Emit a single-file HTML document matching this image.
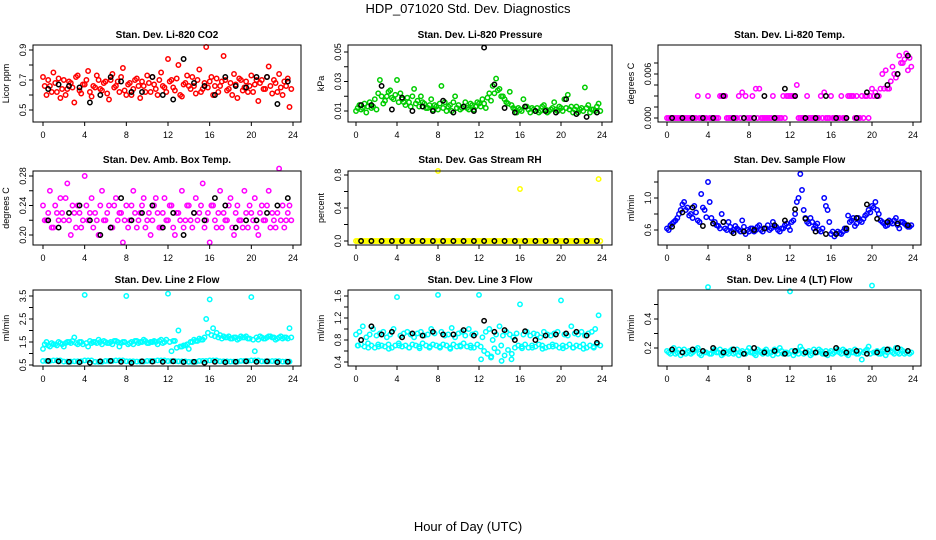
<!DOCTYPE html>
<html><head><meta charset="utf-8"><style>
html,body{margin:0;padding:0;background:#fff}
svg{display:block;font-family:"Liberation Sans",sans-serif}
</style></head><body>
<svg id="chart" width="936" height="540" viewBox="0 0 936 540" xmlns="http://www.w3.org/2000/svg">
<text x="468" y="13" text-anchor="middle" font-size="13">HDP_071020  Std. Dev. Diagnostics</text>
<text x="468" y="531" text-anchor="middle" font-size="13">Hour of Day (UTC)</text>
</svg>
<script>
// ---- data ----
const co2Vals = [0.72,0.6,0.66,0.75,0.62,0.58,0.7,0.64,0.68,0.55,0.73,0.61,0.67,0.76,0.59,0.65,0.7,0.63,0.69,0.57,0.74,0.66,0.62,0.78,0.6,0.68,0.64,0.71,0.58,0.66,0.73,0.62,0.67,0.6,0.75,0.65,0.84,0.7,0.63,0.8,0.59,0.68,0.66,0.72,0.61,0.77,0.64,0.92,0.69,0.6,0.71,0.66,0.86,0.63,0.68,0.74,0.58,0.7,0.65,0.62,0.73,0.67,0.56,0.7,0.64,0.79,0.61,0.68,0.74,0.6,0.66,0.52];
const co2ValsB = [0.66,0.7,0.62,0.68,0.71,0.64,0.6,0.69,0.65,0.72,0.63,0.67,0.7,0.62,0.66,0.73,0.64,0.68,0.61,0.7,0.65,0.69,0.72,0.63,0.67,0.6,0.7,0.66,0.69,0.62,0.68,0.72,0.64,0.7,0.66,0.62,0.69,0.65,0.71,0.6,0.67,0.73,0.64,0.66,0.7,0.62,0.68,0.65,0.72,0.66,0.62,0.69,0.7,0.64,0.6,0.67,0.71,0.63,0.69,0.66,0.62,0.7,0.68,0.64,0.72,0.66,0.7,0.62,0.65,0.69,0.71,0.64];
const co2Black = [0.64,0.67,0.66,0.65,0.55,0.6,0.72,0.69,0.62,0.62,0.72,0.6,0.57,0.84,0.68,0.66,0.6,0.72,0.66,0.65,0.72,0.72,0.54,0.69];
const presVals = [0.01,0.014,0.012,0.009,0.016,0.013,0.011,0.031,0.015,0.02,0.024,0.018,0.031,0.022,0.016,0.019,0.013,0.025,0.017,0.02,0.015,0.012,0.018,0.014,0.011,0.027,0.016,0.013,0.01,0.02,0.014,0.012,0.016,0.011,0.014,0.013,0.015,0.018,0.012,0.022,0.027,0.032,0.025,0.02,0.016,0.023,0.012,0.009,0.011,0.018,0.013,0.009,0.011,0.012,0.01,0.014,0.009,0.011,0.016,0.01,0.012,0.018,0.021,0.013,0.011,0.009,0.012,0.026,0.014,0.011,0.01,0.015];
const presValsB = [0.012,0.011,0.015,0.013,0.012,0.018,0.022,0.02,0.017,0.023,0.019,0.021,0.016,0.018,0.014,0.016,0.02,0.015,0.013,0.016,0.012,0.014,0.011,0.013,0.015,0.012,0.01,0.014,0.016,0.012,0.011,0.013,0.012,0.015,0.011,0.016,0.013,0.015,0.019,0.017,0.022,0.024,0.02,0.018,0.015,0.014,0.011,0.012,0.01,0.013,0.011,0.012,0.01,0.009,0.013,0.011,0.01,0.012,0.011,0.013,0.01,0.012,0.011,0.009,0.013,0.011,0.01,0.012,0.009,0.011,0.013,0.01];
const presBlack = [0.014,0.014,0.027,0.011,0.019,0.01,0.013,0.01,0.017,0.009,0.013,0.01,0.053,0.028,0.012,0.009,0.013,0.01,0.01,0.009,0.018,0.008,0.006,0.009];
const tempVals = [0,0,0,0,0,0,0,0,0,0.003,0,0,0.003,0,0,0,0.003,0.003,0,0,0,0.003,0.0035,0.003,0,0.003,0.004,0.004,0,0,0,0.003,0,0,0.003,0.003,0.003,0.003,0.0045,0,0,0.003,0,0,0,0.003,0.0035,0,0.003,0,0,0.003,0,0.003,0.003,0,0,0.003,0.003,0,0.004,0.0035,0.003,0.006,0.0065,0.004,0.007,0.0055,0.0085,0.0075,0.0088,0.0082];
const tempValsB = [0,0,0,0,0,0,0,0,0,0,0,0,0,0,0,0.003,0.003,0,0,0,0,0,0,0,0,0,0,0,0,0,0,0,0,0,0,0.003,0.003,0.003,0,0,0,0,0,0,0,0,0,0,0,0,0,0,0,0.003,0.003,0.003,0,0,0.003,0.003,0.003,0.003,0.004,0.004,0.004,0.005,0.006,0.006,0.0075,0.008,0.0065,0.007];
const tempBlack = [0,0,0,0,0,0.003,0,0,0,0.003,0,0.004,0.003,0,0,0.003,0,0,0,0.0035,0.003,0.0045,0.006,0.0085];
const ambVals = [0.24,0.22,0.26,0.21,0.23,0.25,0.22,0.27,0.2,0.23,0.24,0.21,0.28,0.22,0.25,0.23,0.2,0.26,0.22,0.24,0.21,0.25,0.23,0.19,0.24,0.22,0.26,0.21,0.23,0.25,0.22,0.2,0.24,0.23,0.21,0.25,0.22,0.24,0.2,0.23,0.26,0.22,0.24,0.21,0.25,0.23,0.27,0.22,0.19,0.24,0.21,0.26,0.23,0.22,0.25,0.2,0.24,0.22,0.26,0.21,0.23,0.25,0.2,0.24,0.22,0.26,0.23,0.21,0.29,0.24,0.22,0.24];
const ambValsB = [0.22,0.23,0.21,0.24,0.22,0.23,0.25,0.22,0.24,0.21,0.23,0.22,0.24,0.23,0.21,0.22,0.24,0.22,0.23,0.21,0.24,0.22,0.23,0.22,0.21,0.24,0.23,0.22,0.24,0.21,0.23,0.22,0.25,0.21,0.23,0.22,0.24,0.21,0.23,0.22,0.21,0.24,0.22,0.23,0.22,0.24,0.21,0.23,0.24,0.22,0.23,0.21,0.22,0.24,0.21,0.23,0.22,0.21,0.23,0.24,0.22,0.21,0.23,0.22,0.24,0.21,0.22,0.23,0.22,0.21,0.23,0.22];
const ambBlack = [0.22,0.21,0.23,0.24,0.22,0.2,0.21,0.25,0.22,0.23,0.24,0.21,0.23,0.2,0.23,0.22,0.25,0.24,0.21,0.22,0.22,0.23,0.24,0.25];
const rhVals = [0,0,0,0,0,0,0,0,0,0,0,0,0,0,0,0,0,0,0,0,0,0,0,0,0.85,0,0,0,0,0,0,0,0,0,0,0,0,0,0,0,0,0,0,0,0,0,0,0,0.63,0,0,0,0,0,0,0,0,0,0,0,0,0,0,0,0,0,0,0,0,0,0,0.75];
const rhValsB = [0,0,0,0,0,0,0,0,0,0,0,0,0,0,0,0,0,0,0,0,0,0,0,0,0,0,0,0,0,0,0,0,0,0,0,0,0,0,0,0,0,0,0,0,0,0,0,0,0,0,0,0,0,0,0,0,0,0,0,0,0,0,0,0,0,0,0,0,0,0,0,0];
const rhBlack = [0,0,0,0,0,0,0,0,0,0,0,0,0,0,0,0,0,0,0,0,0,0,0,0];
const flowVals = [0.62,0.66,0.7,0.75,0.85,0.95,0.88,0.8,0.9,0.72,1.05,0.85,1.2,0.75,0.7,0.65,0.8,0.62,0.7,0.58,0.65,0.6,0.72,0.55,0.58,0.62,0.6,0.66,0.58,0.62,0.6,0.7,0.64,0.58,0.62,0.68,0.6,0.72,0.95,1.3,0.85,0.7,0.75,0.62,0.68,0.58,1.0,0.85,0.55,0.52,0.58,0.55,0.62,0.78,0.72,0.65,0.75,0.7,0.78,0.85,0.9,0.95,0.8,0.7,0.65,0.72,0.68,0.75,0.62,0.7,0.66,0.64];
const flowValsB = [0.6,0.68,0.72,0.8,0.92,0.85,0.78,0.75,0.82,0.7,0.88,0.76,0.95,0.68,0.66,0.62,0.7,0.6,0.64,0.6,0.62,0.58,0.64,0.6,0.62,0.58,0.64,0.6,0.62,0.66,0.62,0.64,0.6,0.62,0.66,0.64,0.7,0.8,1.0,1.1,0.75,0.68,0.7,0.65,0.6,0.62,0.9,0.7,0.58,0.55,0.56,0.58,0.6,0.7,0.75,0.68,0.72,0.74,0.8,0.82,0.88,0.85,0.72,0.68,0.66,0.7,0.72,0.66,0.7,0.68,0.64,0.66];
const flowBlack = [0.64,0.82,0.88,0.65,0.68,0.7,0.56,0.58,0.6,0.62,0.66,0.72,0.86,0.74,0.58,0.55,0.55,0.62,0.75,0.92,0.74,0.7,0.68,0.66];
const line2Hi = [1.2,1.5,1.3,1.4,1.35,1.45,1.3,1.5,1.45,1.7,1.4,1.5,3.55,1.3,1.45,1.5,1.6,1.4,1.5,1.45,1.4,1.55,1.3,1.5,3.5,1.45,1.4,1.55,1.5,1.6,1.45,1.5,1.55,1.4,1.6,1.5,3.6,1.1,1.55,2.0,1.3,1.35,1.2,1.5,1.55,1.65,1.6,2.5,3.35,2.1,1.9,1.8,1.75,1.7,1.65,1.7,1.6,1.75,1.7,1.65,3.45,1.1,1.6,1.7,1.65,1.75,1.7,1.6,1.7,1.65,1.7,2.1];
const line2HiB = [1.4,1.35,1.45,1.4,1.5,1.4,1.45,1.5,1.55,1.45,1.5,1.4,1.45,1.55,1.5,1.45,1.5,1.55,1.45,1.5,1.55,1.5,1.45,1.5,1.4,1.5,1.55,1.45,1.5,1.55,1.45,1.5,1.5,1.55,1.45,1.6,1.5,1.55,1.25,1.3,1.35,1.4,1.5,1.6,1.55,1.6,1.7,1.9,1.8,1.75,1.7,1.65,1.7,1.75,1.65,1.7,1.65,1.7,1.75,1.65,1.6,1.7,1.75,1.65,1.7,1.75,1.7,1.65,1.75,1.7,1.65,1.7];
const line2Lo = [0.68,0.7,0.65,0.66,0.7,0.64,0.68,0.7,0.66,0.65,0.68,0.7,0.67,0.66,0.64,0.68,0.7,0.66,0.65,0.68,0.7,0.66,0.67,0.65];
const line2Black = [0.68,0.66,0.64,0.62,0.6,0.66,0.68,0.64,0.6,0.66,0.65,0.64,0.66,0.63,0.64,0.6,0.64,0.62,0.64,0.66,0.64,0.66,0.62,0.64];
const line3Hi = [0.9,0.95,1.05,0.85,0.9,1.0,0.88,0.92,0.95,0.85,0.9,1.0,1.58,0.88,0.92,0.95,0.9,0.85,0.92,0.95,0.88,0.9,1.0,0.92,1.62,0.95,0.88,0.9,1.02,0.85,0.92,0.95,0.88,1.0,0.9,0.92,1.62,0.85,0.95,1.0,0.8,0.9,1.05,0.88,0.95,0.9,0.85,0.92,1.45,0.9,0.95,0.88,0.92,0.9,0.85,0.95,0.9,0.88,0.92,0.95,1.52,0.9,0.88,1.05,0.92,0.9,0.95,0.88,0.92,0.95,1.0,1.25];
const line3HiB = [0.7,0.72,0.68,0.74,0.7,0.66,0.72,0.7,0.68,0.72,0.66,0.7,0.74,0.68,0.7,0.66,0.72,0.7,0.68,0.74,0.7,0.66,0.72,0.7,0.68,0.72,0.7,0.66,0.72,0.68,0.7,0.74,0.68,0.7,0.66,0.72,0.68,0.6,0.55,0.48,0.65,0.58,0.7,0.52,0.62,0.45,0.66,0.7,0.68,0.72,0.66,0.7,0.68,0.72,0.7,0.66,0.68,0.72,0.7,0.66,0.7,0.68,0.72,0.66,0.7,0.68,0.72,0.66,0.7,0.68,0.72,0.7];
const line3Lo = [0.7,0.66,0.68,0.64,0.7,0.66,0.65,0.68,0.66,0.64,0.68,0.66,0.45,0.5,0.42,0.55,0.65,0.66,0.64,0.68,0.65,0.66,0.64,0.66];
const line3Black = [0.8,1.05,0.9,0.95,0.85,0.92,0.88,0.95,0.9,0.9,0.98,0.88,1.15,0.95,0.98,0.8,0.96,0.8,0.88,0.9,0.92,0.95,0.88,0.75];
const line4Vals = [0.18,0.16,0.2,0.17,0.15,0.19,0.17,0.16,0.18,0.2,0.15,0.17,0.62,0.16,0.19,0.17,0.15,0.18,0.16,0.19,0.17,0.15,0.18,0.16,0.2,0.17,0.15,0.18,0.16,0.19,0.17,0.15,0.18,0.2,0.16,0.17,0.59,0.15,0.18,0.21,0.16,0.17,0.15,0.19,0.17,0.18,0.16,0.15,0.18,0.17,0.19,0.16,0.18,0.15,0.17,0.19,0.16,0.12,0.18,0.21,0.63,0.17,0.16,0.18,0.15,0.19,0.17,0.2,0.16,0.18,0.17,0.16];
const line4ValsB = [0.17,0.18,0.16,0.19,0.17,0.16,0.18,0.17,0.19,0.16,0.18,0.17,0.16,0.18,0.17,0.19,0.16,0.17,0.18,0.16,0.19,0.17,0.16,0.18,0.17,0.16,0.19,0.17,0.18,0.16,0.17,0.19,0.16,0.18,0.17,0.16,0.18,0.17,0.16,0.19,0.17,0.18,0.16,0.17,0.19,0.16,0.18,0.17,0.16,0.18,0.17,0.19,0.16,0.18,0.17,0.16,0.18,0.17,0.19,0.16,0.17,0.18,0.16,0.19,0.17,0.18,0.16,0.17,0.19,0.16,0.18,0.17];
const line4Black = [0.19,0.17,0.19,0.18,0.2,0.17,0.19,0.16,0.2,0.17,0.18,0.16,0.18,0.17,0.17,0.16,0.2,0.17,0.18,0.16,0.17,0.19,0.2,0.18];
const xTicks = [0,4,8,12,16,20,24];

// ---- layout ----
const NS = "http://www.w3.org/2000/svg";
const svg = document.getElementById('chart');
const cols = [{bx0:33,bx1:301,t0:43,t1:293},{bx0:348,bx1:612,t0:356,t1:602},{bx0:658,bx1:921,t0:667,t1:913}];
const rows = [{by0:45,by1:122,ty:38},{by0:171,by1:245,ty:163},{by0:290,by1:366,ty:283}];
const F = 1/3, H = 1/6;
const panels = [
 {name:'co2',title:'Stan. Dev. Li-820 CO2',ylab:'Licor ppm',r:0,c:0,v0:0.5,p0:110,v1:0.9,p1:50,ticks:[0.5,0.6,0.7,0.8,0.9],labels:['0.5','0.7','0.9'],series:[{v:co2Vals,col:'#ff0000',off:0,step:F},{v:co2ValsB,col:'#ff0000',off:H,step:F},{v:co2Black,col:'#000',off:0.5,step:1}]},
 {name:'pressure',title:'Stan. Dev. Li-820 Pressure',ylab:'kPa',r:0,c:1,v0:0.01,p0:111,v1:0.05,p1:52,ticks:[0.01,0.02,0.03,0.04,0.05],labels:['0.01','0.03','0.05'],series:[{v:presVals,col:'#00cd00',off:0,step:F},{v:presValsB,col:'#00cd00',off:H,step:F},{v:presBlack,col:'#000',off:0.5,step:1}]},
 {name:'temp',title:'Stan. Dev. Li-820 Temp.',ylab:'degrees C',r:0,c:2,v0:0,p0:118,v1:0.006,p1:74,ticks:[0,0.0015,0.003,0.0045,0.006,0.0075],labels:['0.000','0.006'],series:[{v:tempVals,col:'#ff00ff',off:0,step:F},{v:tempValsB,col:'#ff00ff',off:H,step:F},{v:tempBlack,col:'#000',off:0.5,step:1}]},
 {name:'amb-box-temp',title:'Stan. Dev. Amb. Box Temp.',ylab:'degrees C',r:1,c:0,v0:0.2,p0:235,v1:0.28,p1:176,ticks:[0.2,0.22,0.24,0.26,0.28],labels:['0.20','0.24','0.28'],series:[{v:ambVals,col:'#ff00ff',off:0,step:F},{v:ambValsB,col:'#ff00ff',off:H,step:F},{v:ambBlack,col:'#000',off:0.5,step:1}]},
 {name:'gas-rh',title:'Stan. Dev. Gas Stream RH',ylab:'percent',r:1,c:1,v0:0,p0:241,v1:0.8,p1:175,ticks:[0,0.2,0.4,0.6,0.8],labels:['0.0','0.4','0.8'],series:[{v:rhVals,col:'#ffff00',off:0,step:F},{v:rhValsB,col:'#ffff00',off:H,step:F},{v:rhBlack,col:'#000',off:0.5,step:1}]},
 {name:'sample-flow',title:'Stan. Dev. Sample Flow',ylab:'ml/min',r:1,c:2,v0:0.6,p0:230,v1:1.0,p1:198,ticks:[0.6,0.8,1.0,1.2],labels:['0.6','1.0'],series:[{v:flowVals,col:'#0000ff',off:0,step:F},{v:flowValsB,col:'#0000ff',off:H,step:F},{v:flowBlack,col:'#000',off:0.5,step:1}]},
 {name:'line2-flow',title:'Stan. Dev. Line 2 Flow',ylab:'ml/min',r:2,c:0,v0:0.5,p0:365,v1:3.5,p1:296,ticks:[0.5,1,1.5,2,2.5,3,3.5],labels:['0.5','1.5','2.5','3.5'],series:[{v:line2Hi,col:'#00ffff',off:0,step:F},{v:line2HiB,col:'#00ffff',off:H,step:F},{v:line2Lo,col:'#00ffff',off:0,step:1},{v:line2Lo,col:'#00ffff',off:0.33,step:1},{v:line2Lo,col:'#00ffff',off:0.66,step:1},{v:line2Black,col:'#000',off:0.5,step:1}]},
 {name:'line3-flow',title:'Stan. Dev. Line 3 Flow',ylab:'ml/min',r:2,c:1,v0:0.4,p0:362,v1:1.6,p1:296,ticks:[0.4,0.6,0.8,1.0,1.2,1.4,1.6],labels:['0.4','0.8','1.2','1.6'],series:[{v:line3Hi,col:'#00ffff',off:0,step:F},{v:line3HiB,col:'#00ffff',off:H,step:F},{v:line3Lo,col:'#00ffff',off:0.2,step:1},{v:line3Black,col:'#000',off:0.5,step:1}]},
 {name:'line4-flow',title:'Stan. Dev. Line 4 (LT) Flow',ylab:'ml/min',r:2,c:2,v0:0.2,p0:348,v1:0.4,p1:319,ticks:[0.2,0.3,0.4,0.5],labels:['0.2','0.4'],series:[{v:line4Vals,col:'#00ffff',off:0,step:F},{v:line4ValsB,col:'#00ffff',off:H,step:F},{v:line4Black,col:'#000',off:0.5,step:1}]}
];
function mk(tag, attrs, parent){const e=document.createElementNS(NS,tag);for(const k in attrs)e.setAttribute(k,attrs[k]);(parent||svg).appendChild(e);return e;}

panels.forEach(p=>{
  const C=cols[p.c], R=rows[p.r];
  const xs = h => C.t0 + (h/24)*(C.t1-C.t0);
  const ys = v => p.p0 + (v-p.v0)*(p.p1-p.p0)/(p.v1-p.v0);
  const g = mk('g',{});
  
  
  const t = mk('text',{x:(C.bx0+C.bx1)/2,y:R.ty,'text-anchor':'middle','font-size':10,'font-weight':'bold'},g);
  t.textContent=p.title;
  
  
  const pts = mk('g',{fill:'none','stroke-width':1.5},g);
  
  
  p.series.forEach(s=>{
    s.v.forEach((v,i)=>{
      const c = mk('circle',{cx:xs(s.off+i*s.step).toFixed(1),cy:ys(v).toFixed(1),r:2.2,stroke:s.col},pts);
      
      
    });
  });
  const box = mk('rect',{x:C.bx0,y:R.by0,width:C.bx1-C.bx0,height:R.by1-R.by0,fill:'none',stroke:'#000','stroke-width':1},g);
  
  
  const xa = mk('g',{},g);
  
  
  xTicks.forEach(h=>{
    mk('line',{x1:xs(h),x2:xs(h),y1:R.by1,y2:R.by1+4,stroke:'#000'},xa);
    const l=mk('text',{x:xs(h),y:R.by1+16,'text-anchor':'middle','font-size':9},xa);
    l.textContent=String(h);
  });
  const ya = mk('g',{},g);
  
  
  p.ticks.forEach(v=>{
    mk('line',{x1:C.bx0-4,x2:C.bx0,y1:ys(v),y2:ys(v),stroke:'#000'},ya);
  });
  p.labels.forEach(s=>{
    const y=ys(parseFloat(s));
    const l=mk('text',{x:0,y:0,'text-anchor':'middle','font-size':9,transform:`translate(${C.bx0-7},${y}) rotate(-90)`},ya);
    l.textContent=s;
  });
  const yl = mk('text',{x:0,y:0,'text-anchor':'middle','font-size':9,transform:`translate(${C.bx0-24},${(R.by0+R.by1)/2}) rotate(-90)`},g);
  yl.textContent=p.ylab;
  
  
});
</script>
</body></html>
